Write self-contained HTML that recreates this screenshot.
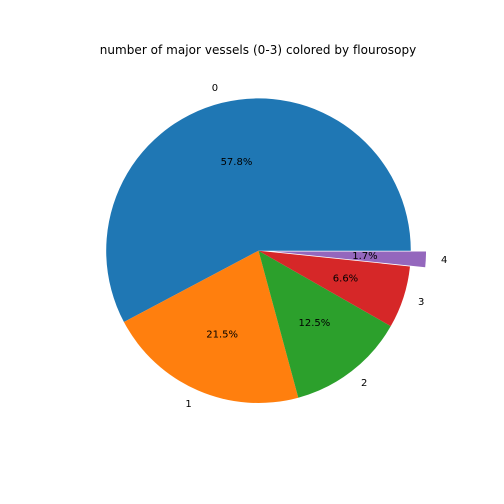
<!DOCTYPE html>
<html>
<head>
<meta charset="utf-8">
<style>
html,body{margin:0;padding:0;background:#fff;}
svg{display:block;}
text{font-family:"DejaVu Sans",sans-serif;fill:#000;}
</style>
</head>
<body>
<svg id="chart" width="504" height="504" viewBox="0 0 504 504" xmlns="http://www.w3.org/2000/svg">
<rect x="0" y="0" width="504" height="504" fill="#fff"/>
<text x="258" y="54" font-size="12" letter-spacing="0.04" text-anchor="middle">number of major vessels (0-3) colored by flourosopy</text>
</svg>
<script>
const categories = ['0', '1', '2', '3', '4'];
const seriesValues = [175, 65, 38, 20, 5];
const explodeFractions = [0, 0, 0, 0, 0.1];
const sliceColors = ['#1f77b4', '#ff7f0e', '#2ca02c', '#d62728', '#9467bd'];

const svg = document.getElementById('chart');
const NS = 'http://www.w3.org/2000/svg';
const cx = 258.5, cy = 250.7, radius = 152.3;
const total = seriesValues.reduce(function (a, b) { return a + b; }, 0);
const px = function (a, r) { return cx + r * Math.cos(a); };
const py = function (a, r) { return cy - r * Math.sin(a); };

let cumulative = 0;
seriesValues.forEach(function (value, i) {
  const a0 = cumulative / total * 2 * Math.PI;
  cumulative += value;
  const a1 = cumulative / total * 2 * Math.PI;
  const mid = (a0 + a1) / 2;
  const off = explodeFractions[i] * radius;
  const dx = off * Math.cos(mid), dy = -off * Math.sin(mid);
  const large = (a1 - a0) > Math.PI ? 1 : 0;

  const path = document.createElementNS(NS, 'path');
  
  
  path.setAttribute('d',
    'M' + (cx + dx) + ' ' + (cy + dy) +
    'L' + (px(a0, radius) + dx) + ' ' + (py(a0, radius) + dy) +
    'A' + radius + ' ' + radius + ' 0 ' + large + ' 0 ' + (px(a1, radius) + dx) + ' ' + (py(a1, radius) + dy) + 'Z');
  path.setAttribute('fill', sliceColors[i]);
  svg.appendChild(path);
});

cumulative = 0;
seriesValues.forEach(function (value, i) {
  const a0 = cumulative / total * 2 * Math.PI;
  cumulative += value;
  const a1 = cumulative / total * 2 * Math.PI;
  const mid = (a0 + a1) / 2;
  const off = explodeFractions[i] * radius;
  const dx = off * Math.cos(mid), dy = -off * Math.sin(mid);

  const label = document.createElementNS(NS, 'text');
  
  
  label.setAttribute('x', px(mid, radius * 1.1) + dx);
  label.setAttribute('y', py(mid, radius * 1.1) + dy + 2.8);
  label.setAttribute('font-size', '10');
  label.setAttribute('text-anchor', Math.cos(mid) > 0 ? 'start' : 'end');
  label.textContent = categories[i];
  svg.appendChild(label);

  const pct = document.createElementNS(NS, 'text');
  
  
  pct.setAttribute('x', px(mid, radius * 0.6) + dx);
  pct.setAttribute('y', py(mid, radius * 0.6) + dy + 2.8);
  pct.setAttribute('font-size', '10');
  pct.setAttribute('text-anchor', 'middle');
  pct.textContent = (value / total * 100).toFixed(1) + '%';
  svg.appendChild(pct);
});
</script>
</body>
</html>
